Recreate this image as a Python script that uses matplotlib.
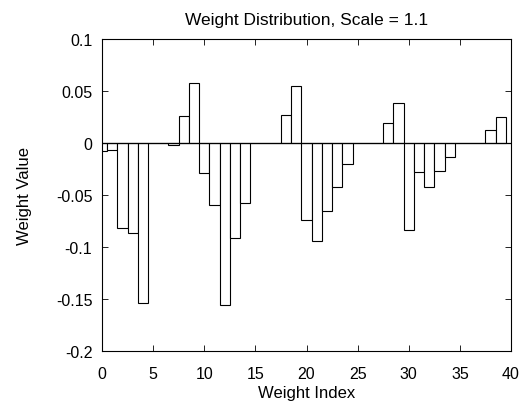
import numpy as np
from matplotlib import pyplot as plt

plt.rcParams["font.family"] = ["Liberation Sans", "DejaVu Sans"]

# Weight values, one per index 0..39
weight_index = np.arange(40)
weight_value = [
    -0.0075, -0.0068, -0.0817, -0.0862, -0.1536,
    0.0, 0.0, -0.0016, 0.0262, 0.0573,
    -0.0288, -0.0593, -0.1558, -0.0911, -0.0574,
    0.0, 0.0, 0.0, 0.0269, 0.0548,
    -0.0737, -0.0946, -0.0657, -0.0427, -0.0205,
    0.0, 0.0, 0.0, 0.0192, 0.0388,
    -0.0840, -0.0279, -0.0420, -0.0269, -0.0132,
    0.0, 0.0, 0.0, 0.0121, 0.0246,
]
x_ticks = [0, 5, 10, 15, 20, 25, 30, 35, 40]
y_ticks = [-0.2, -0.15, -0.1, -0.05, 0, 0.05, 0.1]
y_tick_labels = ["-0.2", "-0.15", "-0.1", "-0.05", "0", "0.05", "0.1"]


def main():
    fig = plt.figure(figsize=(5.24, 4.02), dpi=100)
    ax = fig.add_axes([102 / 524, 1 - 352 / 402, 409 / 524, 312 / 402])

    ax.bar(weight_index, weight_value, width=1.0, facecolor="white",
           edgecolor="black", linewidth=0.8, zorder=2)
    ax.axhline(0, color="black", linewidth=0.9, zorder=3)

    ax.set_xlim(0, 40)
    ax.set_ylim(-0.2, 0.1)
    ax.set_xticks(x_ticks)
    ax.set_yticks(y_ticks)
    ax.set_yticklabels(y_tick_labels)
    ax.tick_params(direction="in", top=True, right=True, length=4,
                   labelsize=11.5, width=0.6)
    ax.tick_params(axis="x", pad=11)
    ax.tick_params(axis="y", pad=7)
    for spine in ax.spines.values():
        spine.set_linewidth(0.8)

    ax.set_xlabel("Weight Index", fontsize=12, labelpad=3)
    ax.set_ylabel("Weight Value", fontsize=12, labelpad=17)
    ax.set_title("Weight Distribution, Scale = 1.1", fontsize=12.5, pad=11)

    fig.savefig("out.png", dpi=100)


if __name__ == "__main__":
    main()
